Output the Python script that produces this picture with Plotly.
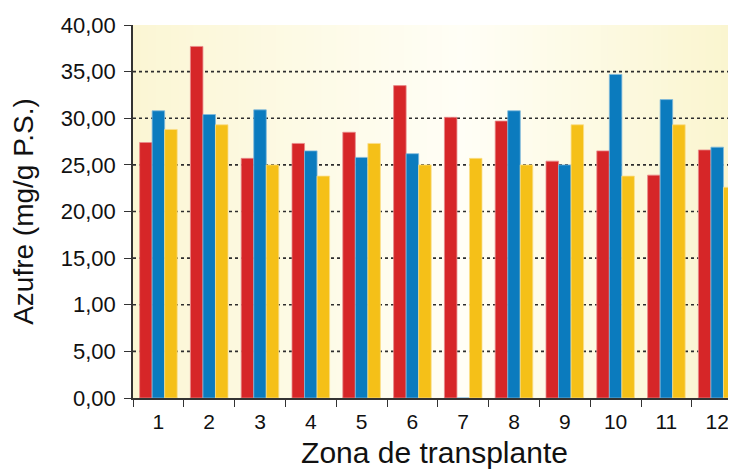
import plotly.graph_objects as go

zonas = ["1", "2", "3", "4", "5", "6", "7", "8", "9", "10", "11", "12"]
serie_roja = [27.4, 37.7, 25.7, 27.3, 28.5, 33.5, 30.1, 29.7, 25.4, 26.5, 23.9, 26.6]
serie_azul = [30.8, 30.4, 30.9, 26.5, 25.8, 26.2, 0.0, 30.8, 25.0, 34.7, 32.0, 26.9]
serie_amarilla = [28.8, 29.3, 25.0, 23.8, 27.3, 25.0, 25.7, 25.0, 29.3, 23.8, 29.3, 22.6]

y_tickvals = [0, 5, 10, 15, 20, 25, 30, 35, 40]
y_ticktext = ["0,00", "5,00", "1,00", "15,00", "20,00", "25,00", "30,00", "35,00", "40,00"]

FONT = "Liberation Sans, Arial, sans-serif"

fig = go.Figure()
series = [
    (serie_roja, "#d62628", "#e98a8b"),
    (serie_azul, "#0b7bbe", "#7fb9dc"),
    (serie_amarilla, "#f5c018", "#fade8a"),
]
for vals, col, edge in series:
    fig.add_trace(go.Bar(
        x=zonas, y=vals,
        marker=dict(color=col, line=dict(color=edge, width=0.8)),
        showlegend=False,
    ))

# background gradient (styling only)
shapes = []
N = 80
stops = [(0.0, (251, 246, 212)), (0.55, (255, 254, 246)), (1.0, (250, 245, 206))]


def interp(t):
    for (t0, c0), (t1, c1) in zip(stops[:-1], stops[1:]):
        if t0 <= t <= t1:
            f = (t - t0) / (t1 - t0)
            return tuple(round(a + (b - a) * f) for a, b in zip(c0, c1))
    return stops[-1][1]


for i in range(N):
    t0 = i / N
    t1 = (i + 1) / N
    c = interp((t0 + t1) / 2)
    shapes.append(dict(type="rect", xref="paper", yref="paper", x0=t0, x1=t1 + 0.002, y0=0, y1=1,
                       fillcolor="rgb(%d,%d,%d)" % c, line=dict(width=0), layer="below"))

for v in y_tickvals[1:-1]:
    shapes.append(dict(type="line", xref="paper", yref="y", x0=0, x1=1, y0=v, y1=v,
                       line=dict(color="#2e2e2e", width=1.6, dash="dot"), layer="below"))

fig.update_layout(
    width=736, height=470,
    margin=dict(l=125, r=8, t=17, b=80, autoexpand=False),
    paper_bgcolor="white",
    plot_bgcolor="rgba(0,0,0,0)",
    barmode="group",
    bargap=0.26,
    bargroupgap=0.0,
    shapes=shapes,
    font=dict(family=FONT, color="#111111"),
)

fig.update_xaxes(
    type="category",
    range=[-0.5, 11.37],
    automargin=False,
    tickson="boundaries",
    ticks="outside", ticklen=7, tickwidth=1.2, tickcolor="#333333",
    showline=True, linecolor="#333333", linewidth=2,
    showgrid=False,
    tickfont=dict(size=21, family=FONT, color="#111111"),
    ticklabelstandoff=4,
    title=dict(text="Zona de transplante", font=dict(size=30, family=FONT, color="#111111"), standoff=10),
)

fig.update_yaxes(
    range=[0, 40],
    automargin=False,
    tickvals=y_tickvals, ticktext=y_ticktext,
    ticks="outside", ticklen=7, tickwidth=1.2, tickcolor="#333333",
    showline=True, linecolor="#333333", linewidth=1.5,
    showgrid=False, zeroline=False,
    tickfont=dict(size=22, family=FONT, color="#111111"),
    ticklabelstandoff=4,
    title=dict(text="Azufre (mg/g P.S.)", font=dict(size=28, family=FONT, color="#111111"), standoff=20),
)

fig.write_html("out.html")
